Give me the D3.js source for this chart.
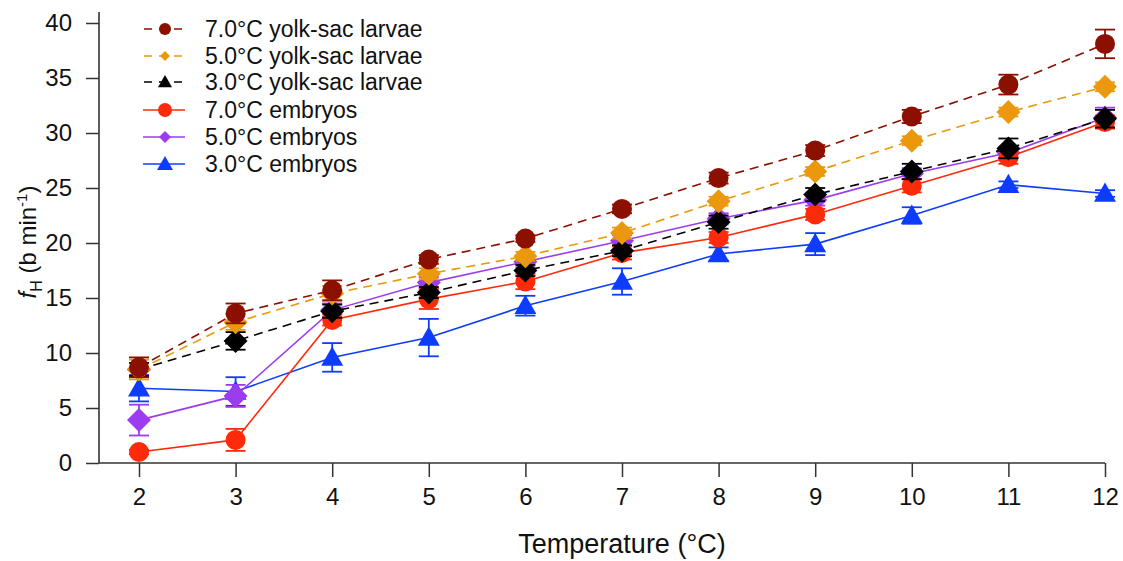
<!DOCTYPE html>
<html>
<head>
<meta charset="utf-8">
<script src="https://cdn.jsdelivr.net/npm/d3@7"></script>
<style>
  html, body { margin: 0; padding: 0; background: #fff; }
  svg { display: block; font-family: "Liberation Sans", Arial, sans-serif; }
</style>
</head>
<body>
<svg id="chart" width="1123" height="561"></svg>
<script>
// Rearing temperatures (°C)
const temperatures = [2, 3, 4, 5, 6, 7, 8, 9, 10, 11, 12];

// Heart rate means (b min^-1) and error bars per group
const ysl7Mean = [8.7, 13.6, 15.7, 18.5, 20.4, 23.1, 25.9, 28.4, 31.5, 34.4, 38.1];
const ysl7Err  = [0.9, 0.9, 0.9, 0.4, 0.3, 0.4, 0.5, 0.5, 0.6, 0.9, 1.3];
const ysl5Mean = [8.5, 12.8, 15.4, 17.2, 18.8, 20.9, 23.8, 26.5, 29.3, 31.9, 34.2];
const ysl5Err  = [0.9, 0.7, 0.7, 0.5, 0.4, 0.5, 0.4, 0.4, 0.4, 0.4, 0.4];
const ysl3Mean = [8.5, 11.1, 13.8, 15.5, 17.5, 19.3, 21.9, 24.4, 26.5, 28.6, 31.3];
const ysl3Err  = [0.6, 0.8, 0.6, 0.5, 0.5, 0.5, 0.6, 0.6, 0.7, 0.9, 0.8];
const emb7Mean = [1.0, 2.1, 13.0, 14.9, 16.5, 19.1, 20.5, 22.6, 25.2, 27.8, 31.0];
const emb7Err  = [0.2, 1.0, 0.5, 0.9, 0.7, 0.6, 0.5, 0.5, 0.6, 0.6, 0.6];
const emb5Mean = [3.9, 6.1, 13.9, 16.4, 18.3, 20.2, 22.2, 23.9, 26.3, 28.2, 31.4];
const emb5Err  = [1.4, 1.0, 0.6, 0.5, 0.5, 0.5, 0.5, 0.5, 0.5, 0.5, 0.9];
const emb3Mean = [6.8, 6.5, 9.6, 11.4, 14.3, 16.5, 19.0, 19.9, 22.5, 25.3, 24.5];
const emb3Err  = [1.2, 1.3, 1.3, 1.7, 0.9, 1.2, 0.6, 1.0, 0.75, 0.3, 0.3];

const yTicks = [0, 5, 10, 15, 20, 25, 30, 35, 40];

// Series drawn back to front; legend lists them in reverse of this order
const series = [
  { name: "3.0°C embryos",         mean: emb3Mean, err: emb3Err, color: "#0d3cff", dashed: false, shape: "triangle", size: 11, legendSize: 8 },
  { name: "5.0°C embryos",         mean: emb5Mean, err: emb5Err, color: "#9b3cf0", dashed: false, shape: "diamond",  size: 12, legendSize: 6 },
  { name: "7.0°C embryos",         mean: emb7Mean, err: emb7Err, color: "#ff2a0a", dashed: false, shape: "circle",   size: 10, legendSize: 7 },
  { name: "3.0°C yolk-sac larvae", mean: ysl3Mean, err: ysl3Err, color: "#000000", dashed: true,  shape: "diamond",  size: 12, legendSize: 7, legendShape: "triangle" },
  { name: "5.0°C yolk-sac larvae", mean: ysl5Mean, err: ysl5Err, color: "#eb980c", dashed: true,  shape: "diamond",  size: 12, legendSize: 5 },
  { name: "7.0°C yolk-sac larvae", mean: ysl7Mean, err: ysl7Err, color: "#8b1000", dashed: true,  shape: "circle",   size: 10, legendSize: 6 }
];

const svg = d3.select("#chart");

const x = d3.scaleLinear().domain([1.586, 12]).range([99, 1105]);
const y = d3.scaleLinear().domain([0, 41]).range([463, 12]);

// Marker path generator centred on (0,0)
function markerPath(shape, s) {
  if (shape === "circle") {
    return d3.arc()({ innerRadius: 0, outerRadius: s, startAngle: 0, endAngle: 2 * Math.PI });
  }
  if (shape === "diamond") {
    return `M0,${-s}L${s},0L0,${s}L${-s},0Z`;
  }
  // upward triangle
  const h = s * 1.0;
  return `M0,${-h}L${s},${h * 0.75}L${-s},${h * 0.75}Z`;
}

// Axes
const axisColor = "#333";
const yAxis = svg.append("g")
  .attr("transform", "translate(99,0)")
  .call(d3.axisLeft(y).tickValues(yTicks).tickSize(13).tickPadding(14));
const xAxis = svg.append("g")
  .attr("transform", "translate(0,463)")
  .call(d3.axisBottom(x).tickValues(temperatures).tickSize(14).tickPadding(10).tickSizeOuter(0));
[yAxis, xAxis].forEach(g => {
  g.select(".domain").attr("stroke", axisColor).attr("stroke-width", 1.6);
  g.selectAll(".tick line").attr("stroke", axisColor).attr("stroke-width", 1.5);
  g.selectAll(".tick text").attr("fill", "#111").attr("font-size", 24)
    .attr("font-family", "'Liberation Sans', Arial, sans-serif");
});
yAxis.select(".domain").attr("d", `M0,${y(41)}V${y(0)}`);
xAxis.select(".domain").attr("d", `M99,0H${x(12)}`);
xAxis.selectAll(".tick text").attr("dy", "0.75em");

// Axis titles
svg.append("text")
  .attr("x", x(7)).attr("y", 553)
  .attr("text-anchor", "middle")
  .attr("font-size", 27).attr("fill", "#111")
  .text("Temperature (°C)");

const yTitle = svg.append("text")
  .attr("transform", "translate(36,242) rotate(-90)")
  .attr("text-anchor", "middle")
  .attr("font-size", 24).attr("fill", "#111");
yTitle.append("tspan").attr("font-style", "italic").text("f");
yTitle.append("tspan").attr("font-size", 16).attr("dy", 6).text("H");
yTitle.append("tspan").attr("dy", -6).text(" (b min");
yTitle.append("tspan").attr("font-size", 15).attr("dy", -9).text("-1");
yTitle.append("tspan").attr("dy", 9).text(")");

// Plot layer
const plot = svg.append("g");
const line = d3.line().x((d, i) => x(temperatures[i])).y(d => y(d));

series.forEach(s => {
  const g = plot.append("g");
  g.append("path")
    .datum(s.mean)
    .attr("d", line)
    .attr("fill", "none")
    .attr("stroke", s.color)
    .attr("stroke-width", 1.6)
    .attr("stroke-dasharray", s.dashed ? "9,6" : null);

  const pts = s.mean.map((m, i) => ({ t: temperatures[i], m, e: s.err[i] }));
  const eb = g.selectAll(".eb").data(pts).join("g")
    .attr("stroke", s.color).attr("stroke-width", 1.8);
  eb.append("line")
    .attr("x1", d => x(d.t)).attr("x2", d => x(d.t))
    .attr("y1", d => y(d.m - d.e)).attr("y2", d => y(d.m + d.e));
  eb.append("line")
    .attr("x1", d => x(d.t) - 10).attr("x2", d => x(d.t) + 10)
    .attr("y1", d => y(d.m + d.e)).attr("y2", d => y(d.m + d.e));
  eb.append("line")
    .attr("x1", d => x(d.t) - 10).attr("x2", d => x(d.t) + 10)
    .attr("y1", d => y(d.m - d.e)).attr("y2", d => y(d.m - d.e));

  g.selectAll(".mk").data(pts).join("path")
    .attr("d", markerPath(s.shape, s.size))
    .attr("transform", d => `translate(${x(d.t)},${y(d.m)})`)
    .attr("fill", s.color);
});

// Legend
const legend = svg.append("g");
const legendRows = series.slice().reverse();
const rowY = [29, 56, 82, 110, 137, 164];
legendRows.forEach((s, i) => {
  const r = legend.append("g").attr("transform", `translate(0,${rowY[i]})`);
  r.append("line")
    .attr("x1", 143).attr("x2", 185).attr("y1", 0).attr("y2", 0)
    .attr("stroke", s.color).attr("stroke-width", 1.5)
    .attr("stroke-dasharray", s.dashed ? "8,7" : null)
    .attr("stroke-dashoffset", s.dashed ? -1 : 0);
  r.append("path")
    .attr("d", markerPath(s.legendShape || s.shape, s.legendSize))
    .attr("transform", "translate(165,0)")
    .attr("fill", s.color);
  r.append("text")
    .attr("x", 205).attr("y", 0).attr("dy", "0.35em")
    .attr("font-size", 23).attr("fill", "#111")
    .text(s.name);
});
</script>
</body>
</html>
